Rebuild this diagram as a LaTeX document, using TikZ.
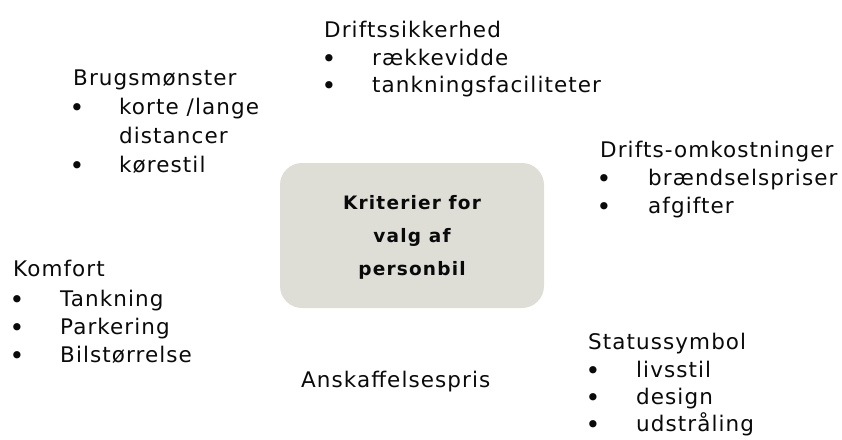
\documentclass[tikz,border=0pt]{standalone}
\usepackage{fontspec}
\setmainfont{DejaVu Sans}
\newfontfamily\lblfont[LetterSpace=5]{DejaVu Sans}
\newfontfamily\ctrfont[LetterSpace=6.5]{DejaVu Sans}
\definecolor{boxfill}{HTML}{DEDED6}
\definecolor{txt}{HTML}{0A0A0A}
\tikzset{
  lbl/.style={inner sep=0pt, anchor=base west, text=txt, font=\lblfont\fontsize{21.5}{25}\selectfont},
  bul/.style={inner sep=0pt, anchor=base, text=txt, yshift=-2pt, text depth=0pt, text height=10pt, font=\fontsize{25}{26}\selectfont},
  centerbox/.style={fill=boxfill, draw=none, rounded corners=22pt},
  ctrline/.style={inner sep=0pt, anchor=base, text=txt, font=\ctrfont\bfseries\fontsize{18.5}{21}\selectfont}
}
\begin{document}
\begin{tikzpicture}[x=1pt,y=-1pt]
\useasboundingbox (0,0) rectangle (842,439);
% centre box
\path[centerbox] (280,163) rectangle (544,308);
\node[ctrline] (c1) at (412,209) {Kriterier for};
\node[ctrline] (c2) at (412,242) {valg af};
\node[ctrline] (c3) at (412,275) {personbil};
% Driftssikkerhed
\node[lbl] (d0) at (324,37) {Driftssikkerhed};
\node[bul] (db1) at (329,65) {•};
\node[lbl] (d1) at (372,65) {rækkevidde};
\node[bul] (db2) at (329,92) {•};
\node[lbl] (d2) at (372,92) {tankningsfaciliteter};
% Brugsmønster
\node[lbl] (b0) at (73,85) {Brugsmønster};
\node[bul] (bb1) at (77,114) {•};
\node[lbl] (b1) at (119,114) {korte /lange};
\node[lbl] (b1b) at (119,143) {distancer};
\node[bul] (bb2) at (77,172) {•};
\node[lbl] (b2) at (119,172) {kørestil};
% Drifts-omkostninger
\node[lbl] (o0) at (600,157) {Drifts-omkostninger};
\node[bul] (ob1) at (604,185) {•};
\node[lbl] (o1) at (648,185) {brændselspriser};
\node[bul] (ob2) at (604,213) {•};
\node[lbl] (o2) at (648,213) {afgifter};
% Komfort
\node[lbl] (k0) at (13,276) {Komfort};
\node[bul] (kb1) at (17,306) {•};
\node[lbl] (k1) at (60,306) {Tankning};
\node[bul] (kb2) at (17,334) {•};
\node[lbl] (k2) at (60,334) {Parkering};
\node[bul] (kb3) at (17,362) {•};
\node[lbl] (k3) at (60,362) {Bilstørrelse};
% Anskaffelsespris
\node[lbl] (a0) at (301,387) {Anskaffelsespris};
% Statussymbol
\node[lbl] (s0) at (588,349) {Statussymbol};
\node[bul] (sb1) at (593,377) {•};
\node[lbl] (s1) at (636,377) {livsstil};
\node[bul] (sb2) at (593,404) {•};
\node[lbl] (s2) at (636,404) {design};
\node[bul] (sb3) at (593,431) {•};
\node[lbl] (s3) at (636,431) {udstråling};
\end{tikzpicture}
\end{document}
